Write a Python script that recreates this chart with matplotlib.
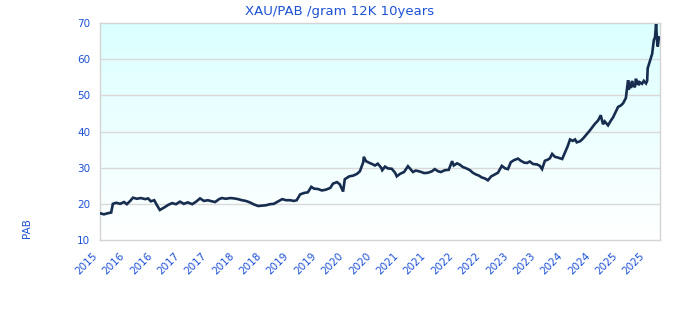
import numpy as np
import matplotlib
matplotlib.use("Agg")
import matplotlib.pyplot as plt
import matplotlib.transforms as mtrans
from matplotlib.colors import LinearSegmentedColormap

# decimal-year time axis and gold price per gram (12K) in PAB
years = [2015.80, 2015.87, 2015.94, 2016.00, 2016.03, 2016.09, 2016.16, 2016.23, 2016.28, 2016.34,
         2016.39, 2016.46, 2016.53, 2016.61, 2016.66, 2016.71, 2016.77, 2016.82, 2016.87, 2016.95,
         2017.02, 2017.09, 2017.16, 2017.23, 2017.30, 2017.37, 2017.45, 2017.52, 2017.59, 2017.66,
         2017.73, 2017.80, 2017.86, 2017.93, 2017.98, 2018.05, 2018.13, 2018.20, 2018.27, 2018.34,
         2018.41, 2018.48, 2018.56, 2018.63, 2018.70, 2018.77, 2018.84, 2018.91, 2018.98, 2019.06,
         2019.13, 2019.20, 2019.27, 2019.32, 2019.38, 2019.45, 2019.52, 2019.58, 2019.63, 2019.70,
         2019.77, 2019.84, 2019.92, 2019.97, 2020.04, 2020.09, 2020.15, 2020.18, 2020.26, 2020.33,
         2020.40, 2020.45, 2020.51, 2020.52, 2020.56, 2020.61, 2020.67, 2020.72, 2020.77, 2020.83,
         2020.85, 2020.90, 2020.95, 2021.02, 2021.08, 2021.11, 2021.17, 2021.24, 2021.31, 2021.36,
         2021.40, 2021.45, 2021.53, 2021.60, 2021.67, 2021.74, 2021.79, 2021.85, 2021.90, 2021.97,
         2022.04, 2022.10, 2022.13, 2022.19, 2022.24, 2022.29, 2022.37, 2022.42, 2022.47, 2022.53,
         2022.58, 2022.63, 2022.69, 2022.74, 2022.80, 2022.85, 2022.92, 2022.99, 2023.05, 2023.10,
         2023.15, 2023.21, 2023.28, 2023.33, 2023.39, 2023.44, 2023.49, 2023.55, 2023.62, 2023.67,
         2023.71, 2023.76, 2023.81, 2023.85, 2023.89, 2023.94, 2023.99, 2024.07, 2024.12, 2024.17,
         2024.21, 2024.26, 2024.30, 2024.33, 2024.39, 2024.44, 2024.49, 2024.55, 2024.60, 2024.66,
         2024.71, 2024.76, 2024.80, 2024.83, 2024.89, 2024.94, 2024.98, 2025.03, 2025.07, 2025.12,
         2025.16, 2025.21, 2025.23, 2025.25, 2025.26, 2025.28, 2025.30, 2025.32, 2025.34, 2025.35,
         2025.37, 2025.39, 2025.41, 2025.42, 2025.44, 2025.46, 2025.50, 2025.53, 2025.57, 2025.59,
         2025.60, 2025.64, 2025.68, 2025.71, 2025.73, 2025.75, 2025.77, 2025.78, 2025.80]
prices = [17.4, 17.1, 17.4, 17.6, 20.0, 20.3, 20.0, 20.5, 19.9, 20.8,
          21.7, 21.4, 21.6, 21.3, 21.5, 20.7, 21.0, 19.6, 18.3, 19.0,
          19.7, 20.2, 19.9, 20.6, 20.0, 20.4, 19.9, 20.6, 21.5, 20.8,
          21.0, 20.7, 20.5, 21.3, 21.6, 21.4, 21.6, 21.5, 21.3, 21.0,
          20.8, 20.4, 19.8, 19.4, 19.5, 19.6, 19.9, 20.0, 20.6, 21.3,
          21.0, 21.0, 20.8, 21.0, 22.6, 23.0, 23.2, 24.7, 24.2, 24.1,
          23.7, 23.9, 24.4, 25.6, 26.0, 25.4, 23.4, 26.8, 27.6, 27.8,
          28.3, 29.0, 31.5, 33.0, 31.8, 31.4, 31.0, 30.6, 31.1, 30.0,
          29.3, 30.3, 29.8, 29.7, 28.6, 27.6, 28.3, 28.8, 30.4, 29.5,
          28.8, 29.2, 28.9, 28.5, 28.6, 29.0, 29.6, 29.0, 28.8, 29.3,
          29.4, 31.8, 30.6, 31.2, 30.8, 30.2, 29.7, 29.3, 28.6, 28.1,
          27.8, 27.3, 27.0, 26.5, 27.6, 28.0, 28.6, 30.5, 29.8, 29.6,
          31.5, 32.1, 32.5, 31.9, 31.4, 31.3, 31.7, 31.0, 30.9, 30.5,
          29.6, 31.9, 32.2, 32.6, 33.8, 33.0, 32.8, 32.4, 34.2, 36.0,
          37.8, 37.4, 37.8, 37.0, 37.3, 38.0, 38.9, 40.0, 41.0, 42.2,
          43.0, 44.5, 42.0, 42.8, 41.7, 43.0, 43.9, 45.5, 46.8, 47.2,
          47.8, 49.3, 52.0, 54.2, 51.5, 53.4, 52.0, 54.0, 52.5, 53.0,
          52.2, 54.6, 53.0, 54.0, 52.8, 53.6, 53.2, 54.0, 53.3, 54.0,
          57.5, 59.5, 61.5, 65.3, 66.0, 69.7, 64.6, 63.5, 66.0]

tick_pos = [2015.80, 2016.29, 2016.78, 2017.27, 2017.76, 2018.25, 2018.74, 2019.23, 2019.72,
            2020.21, 2020.70, 2021.19, 2021.68, 2022.17, 2022.66, 2023.15, 2023.64, 2024.13,
            2024.62, 2025.11, 2025.60]
tick_labels = ["2015", "2016", "2016", "2017", "2017", "2018", "2018", "2019", "2019", "2020",
               "2020", "2021", "2021", "2022", "2022", "2023", "2023", "2024", "2024", "2025", "2025"]
y_ticks = [10, 20, 30, 40, 50, 60, 70]

blue = "#1d52d6"
fig = plt.figure(figsize=(6.8, 3.2), dpi=100)
ax = fig.add_axes([100/680, 80/320, 560/680, 217/320])

x0, x1 = 2015.80, 2025.82
ax.set_xlim(x0, x1)
ax.set_ylim(10, 70)

cmap = LinearSegmentedColormap.from_list("bg", ["#ffffff", "#dbffff"])
grad = np.linspace(0, 1, 256).reshape(-1, 1)
ax.imshow(grad, cmap=cmap, aspect="auto", extent=[x0, x1, 10, 70], origin="lower", zorder=0)

for yv in y_ticks[1:-1]:
    ax.axhline(yv, color="#d9d9d9", lw=1.0, zorder=1)

ax.plot(years, prices, color="#172d4f", lw=1.9, zorder=3, solid_joinstyle="miter")

for s in ax.spines.values():
    s.set_color("#d4d4d4")
    s.set_linewidth(1.0)

ax.set_yticks(y_ticks)
ax.set_yticklabels([str(v) for v in y_ticks])
ax.set_xticks(tick_pos)
ax.set_xticklabels(tick_labels, rotation=45, ha="right", va="top", rotation_mode="anchor")
ax.tick_params(axis="both", length=0, labelcolor=blue, labelsize=7.5)
ax.tick_params(axis="y", pad=7)
ax.tick_params(axis="x", pad=0)
offset = mtrans.ScaledTranslation(-0.08, -0.11, fig.dpi_scale_trans)
for lbl in ax.get_xticklabels():
    lbl.set_transform(lbl.get_transform() + offset)

fig.text(0.5, 1 - 11/320, "XAU/PAB /gram 12K 10years", color=blue, fontsize=9.5,
         ha="center", va="center")
fig.text(27/680, 1 - 228/320, "PAB", color=blue, fontsize=7.5, rotation=90,
         ha="center", va="center")

fig.savefig("out.png", dpi=100)
